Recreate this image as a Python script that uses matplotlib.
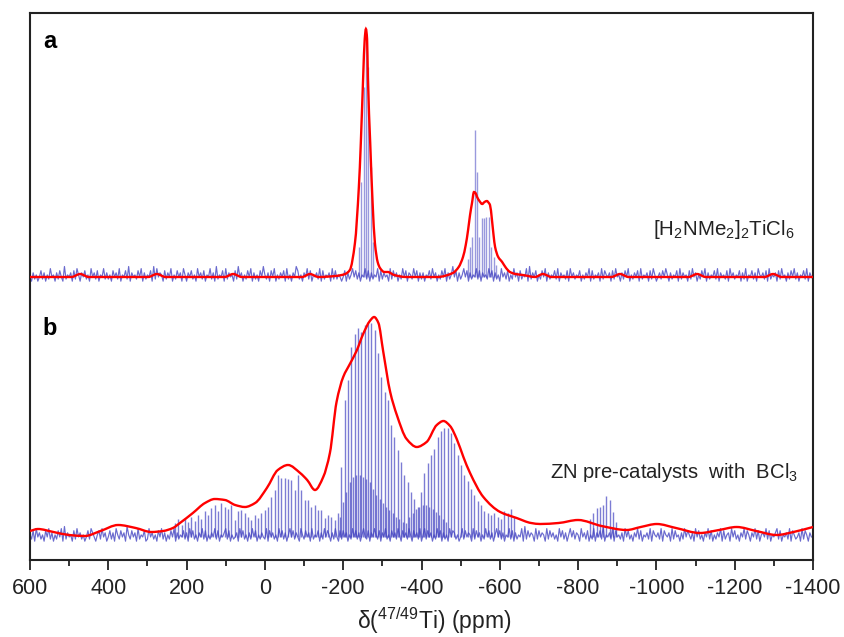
import numpy as np
import matplotlib
matplotlib.use('Agg')
import matplotlib.pyplot as plt
from matplotlib.path import Path
from matplotlib.patches import PathPatch
from matplotlib.ticker import MultipleLocator

# ---- data (intensity in px above each trace's baseline) ----
PPM_LEFT, PPM_RIGHT = 600, -1400

# panel a: [H2NMe2]2TiCl6, red envelope
ENV_A_PPM = [600, 494, 472, 450, 298, 276, 254, 103, 81, 59, -95, -115, -137, -180, -205,
             -217, -230, -240, -245, -251, -255, -258, -261, -263, -269, -275, -281, -288,
             -294, -305, -314, -330, -360, -440, -480, -495, -506, -513, -519, -524, -529,
             -534, -538, -542, -548, -555, -561, -567, -572, -575, -580, -584, -588, -596,
             -606, -616, -626, -640, -659, -690, -710, -732, -885, -907, -929, -1082, -1104,
             -1126, -1276, -1298, -1320, -1400]
ENV_A_INT = [0, 0, 3, 0, 0, 3, 0, 0, 3, 0, 0, 3, 0, 1, 3,
             7, 34, 90, 134, 200, 238, 248, 238, 200, 134, 75, 34, 15,
             9, 5, 5, 2, 0, 0, 4, 10, 20, 32, 47, 62, 74,
             85, 84, 80, 76, 73, 75, 76, 74, 72, 57, 42, 30, 20,
             15, 9, 5, 3, 2, 0, 3, 0, 0, 3, 0, 0, 3,
             0, 0, 3, 0, 0]

# panel a spikelets
SPK_A_PPM = [-240, -246, -252, -258, -264, -270, -276, -518, -524, -530, -536, -542,
             -548, -554, -560, -566, -572, -578, -584, -590]
SPK_A_INT = [30, 95, 190, 235, 210, 110, 35, 18, 30, 40, 147, 105,
             40, 59, 59, 60, 60, 30, 20, 12]

# panel b: ZN pre-catalysts with BCl3, red envelope
ENV_B_PPM = [600, 580, 540, 500, 460, 420, 375, 330, 290, 260, 235, 217, 184, 153, 128,
             102, 76, 51, 25, -5, -33, -59, -90, -108, -128, -149, -166, -183, -200,
             -217, -234, -251, -268, -279, -290, -302, -320, -337, -362, -388, -413,
             -439, -456, -473, -490, -507, -524, -558, -601, -643, -680, -703, -750,
             -800, -860, -924, -960, -1001, -1050, -1111, -1160, -1205, -1255, -1307,
             -1350, -1400]
ENV_B_INT = [6, 8, 5, 2, 1, 6, 12, 9, 5, 6, 9, 14, 24, 34, 38,
             37, 32, 30, 34, 49, 67, 72, 64, 57, 47, 60, 84, 135, 160,
             173, 186, 203, 216, 220, 214, 186, 145, 122, 98, 90, 95,
             112, 116, 111, 98, 80, 64, 40, 25, 19, 14, 13, 14,
             17, 11, 7, 10, 13, 9, 4, 7, 10, 6, 2,
             5, 10]

# panel b spikelets (constant echo spacing)
SPK_STEP_B = 8.5
SPK_B_START = 230
SPK_B_INT = [14, 18, 12, 19, 15, 20, 16, 22, 18, 26, 22, 29, 32, 26, 34, 30, 28, 32, 17, 26,
             27, 24, 20, 17, 22, 19, 24, 27, 30, 40, 47, 62, 59, 59, 58, 57, 47, 62, 47, 37,
             37, 30, 32, 27, 27, 19, 22, 20, 17, 24, 70, 137, 157, 190, 203, 209, 205, 212,
             214, 214, 207, 184, 160, 145, 137, 112, 100, 87, 75, 62, 55, 45, 38, 30, 45, 64,
             74, 82, 88, 100, 106, 109, 109, 104, 94, 82, 72, 62, 56, 48, 42, 36, 32, 26, 24,
             22, 24, 20, 18, 26, 24, 28, 20]
SPK_B_MINOR_START = -190.75
SPK_B_MINOR_INT = [20, 35, 45, 55, 60, 62, 62, 60, 58, 55, 48, 42, 38, 34, 30, 27, 24, 20, 18,
                   15, 14, 20, 24, 28, 30, 32, 32, 30, 28, 25, 22, 18, 15]
SPK_B_FAR_START = -830
SPK_B_FAR_INT = [18, 24, 29, 30, 32, 41, 37, 25, 15]

# baseline noise, one digit per 4 ppm
NOISE_A = ("31524136251427341526318243516274153624173526143725"
           "24163527143628153426371524361827354162537142635174"
           "15362417352614372518243617253416283514263715241638"
           "42516371425361724153862415372614352716243517262431"
           "36152473625143726152437162534172635142736154273615"
           "25143627351426371524836152473615243726153427361524"
           "17352614273516243718253614263715243627153426173524"
           "36142537162435172643516273415263714253617243516274"
           "13526374152436172534162735142637152436271534261735"
           "24361527143625174352617243516273415263725143627153"
           "2")
NOISE_B = ("42617352416372514263718253416273524136275314627351"
           "36251742635184263517243612735241637251426371524362"
           "51736241537261425372614357261423517362415273614253"
           "27163524173625147362531742635172436152736415273162"
           "63514273625147326153742615372416352741635274163527"
           "14726351427361524173652413726354172635142736251473"
           "62514372615243718263541726354172635241736251473625"
           "41735261427153628143527163425173624153726143527164"
           "35271643517263415273642517362415372614253716245173"
           "62415372641537261453726143572614352716423517264153"
           "3")

# ---- layout ----
BASE_A = 283
BASE_B = 23
NOISE_SCALE = 2.1
BLUE = '#4545c2'
RED = '#ff0000'
INK = '#222222'

plt.rcParams['font.family'] = ['Liberation Sans', 'DejaVu Sans']
plt.rcParams['mathtext.fontset'] = 'custom'
plt.rcParams['mathtext.rm'] = 'Liberation Sans'
plt.rcParams['mathtext.it'] = 'Liberation Sans:italic'
plt.rcParams['axes.unicode_minus'] = False

fig = plt.figure(figsize=(8.44, 6.37), dpi=100)
ax = fig.add_axes([30 / 844, 1 - 560 / 637, 783 / 844, 547 / 637])


def noise_trace(digits, base):
    vals = np.array([int(c) for c in digits], dtype=float)
    x = np.linspace(PPM_LEFT, PPM_RIGHT, len(vals))
    return x, base + (vals - 3) * NOISE_SCALE


def spikes(start, heights, step):
    x = start - step * np.arange(len(heights))
    return x, np.asarray(heights, dtype=float)


def smooth_path(xs, ys):
    # monotone cubic (pchip-style) bezier through the read points, just for drawing
    x = np.asarray(xs, dtype=float)
    y = np.asarray(ys, dtype=float)
    h = np.diff(x)
    d = np.diff(y) / h
    m = np.zeros_like(x)
    m[0], m[-1] = d[0], d[-1]
    for i in range(1, len(x) - 1):
        if d[i - 1] * d[i] > 0:
            w1 = 2 * h[i] + h[i - 1]
            w2 = h[i] + 2 * h[i - 1]
            m[i] = (w1 + w2) / (w1 / d[i - 1] + w2 / d[i])
    verts = [(x[0], y[0])]
    codes = [Path.MOVETO]
    for i in range(len(x) - 1):
        verts += [(x[i] + h[i] / 3, y[i] + m[i] * h[i] / 3),
                  (x[i + 1] - h[i] / 3, y[i + 1] - m[i + 1] * h[i] / 3),
                  (x[i + 1], y[i + 1])]
        codes += [Path.CURVE4] * 3
    return Path(verts, codes)


# blue spectra
for digits, base in [(NOISE_A, BASE_A), (NOISE_B, BASE_B)]:
    nx, ny = noise_trace(digits, base)
    ax.plot(nx, ny, color=BLUE, lw=0.85, alpha=0.8)

ax.vlines(SPK_A_PPM, BASE_A, BASE_A + np.array(SPK_A_INT), color=BLUE, lw=1.0, alpha=0.55)
for start, heights in [(SPK_B_START, SPK_B_INT), (SPK_B_MINOR_START, SPK_B_MINOR_INT),
                       (SPK_B_FAR_START, SPK_B_FAR_INT)]:
    sx, sy = spikes(start, heights, SPK_STEP_B)
    ax.vlines(sx, BASE_B, BASE_B + sy, color=BLUE, lw=1.0, alpha=0.7)

# red envelopes
for ppm, inten, base in [(ENV_A_PPM, ENV_A_INT, BASE_A), (ENV_B_PPM, ENV_B_INT, BASE_B)]:
    path = smooth_path(ppm, base + np.array(inten))
    ax.add_patch(PathPatch(path, facecolor='none', edgecolor=RED, lw=1.7, zorder=3))

ax.set_xlim(PPM_LEFT, PPM_RIGHT)
ax.set_ylim(0, 547)
ax.set_yticks([])
ax.xaxis.set_major_locator(MultipleLocator(200))
ax.xaxis.set_minor_locator(MultipleLocator(100))
ax.tick_params(axis='x', which='major', direction='out', length=7, width=1.3,
               labelsize=15.5, pad=6, colors=INK)
ax.tick_params(axis='x', which='minor', direction='out', length=4, width=1.3, colors=INK)
for sp in ax.spines.values():
    sp.set_linewidth(1.5)
    sp.set_color(INK)

ax.text(567, 512, 'a', fontsize=17, fontweight='bold', ha='left', va='baseline')
ax.text(567, 225, 'b', fontsize=17, fontweight='bold', ha='left', va='baseline')
ax.text(-1354, 325, r'[H$_2$NMe$_2$]$_2$TiCl$_6$', fontsize=14.8, ha='right', va='baseline',
        color=INK)
ax.text(-1362, 82, r'ZN pre-catalysts  with  BCl$_3$', fontsize=14.6, ha='right', va='baseline',
        color=INK)

fig.text(434 / 844, 1 - 621 / 637, r'δ($^{47/49}$Ti) (ppm)', fontsize=16.5, ha='center',
         va='center', color=INK)

fig.savefig('out.png', dpi=100)
